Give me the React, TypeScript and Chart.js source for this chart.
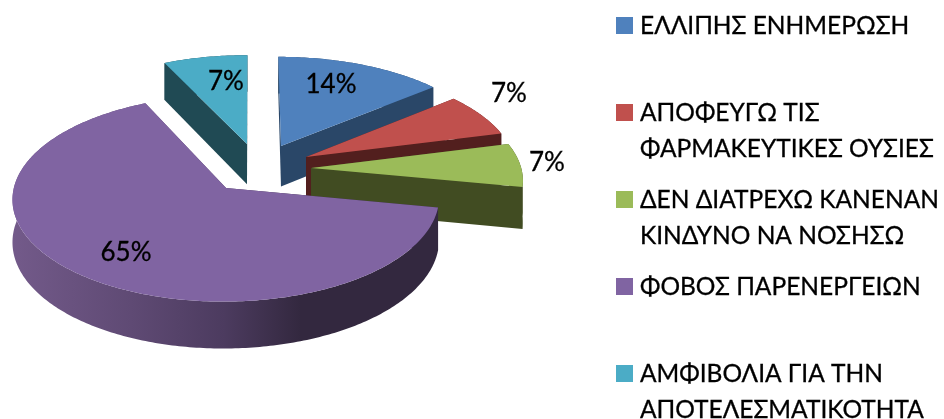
import { useEffect, useRef } from "react";
import Chart from "chart.js/auto";

const categories = [
  "ΕΛΛΙΠΗΣ ΕΝΗΜΕΡΩΣΗ",
  "ΑΠΟΦΕΥΓΩ ΤΙΣ ΦΑΡΜΑΚΕΥΤΙΚΕΣ ΟΥΣΙΕΣ",
  "ΔΕΝ ΔΙΑΤΡΕΧΩ ΚΑΝΕΝΑΝ ΚΙΝΔΥΝΟ ΝΑ ΝΟΣΗΣΩ",
  "ΦΟΒΟΣ ΠΑΡΕΝΕΡΓΕΙΩΝ",
  "ΑΜΦΙΒΟΛΙΑ ΓΙΑ ΤΗΝ ΑΠΟΤΕΛΕΣΜΑΤΙΚΟΤΗΤΑ",
];
const shares = [14, 7, 7, 65, 7];
const topColors = ["#4f81bd", "#c0504d", "#9bbb59", "#8064a2", "#4bacc6"];
const sideColors = ["#2a4768", "#521f1e", "#414c22", "#33283f", "#204a54"];

// legend wrapping and placement
const legendLines = [
  ["ΕΛΛΙΠΗΣ ΕΝΗΜΕΡΩΣΗ"],
  ["ΑΠΟΦΕΥΓΩ ΤΙΣ", "ΦΑΡΜΑΚΕΥΤΙΚΕΣ ΟΥΣΙΕΣ"],
  ["ΔΕΝ ΔΙΑΤΡΕΧΩ ΚΑΝΕΝΑΝ", "ΚΙΝΔΥΝΟ ΝΑ ΝΟΣΗΣΩ"],
  ["ΦΟΒΟΣ ΠΑΡΕΝΕΡΓΕΙΩΝ"],
  ["ΑΜΦΙΒΟΛΙΑ ΓΙΑ ΤΗΝ", "ΑΠΟΤΕΛΕΣΜΑΤΙΚΟΤΗΤΑ"],
];
const legendTops = [17, 104, 191, 278, 365];
const labelSpots = [
  [331, 85],
  [509, 94],
  [547, 163],
  [126, 253],
  [226, 82],
];

// 3D look: perspective projection of the flat pie, explosion of each slice in unit-radius space
const VIEW = { cx: 252, cy: 172, rx: 211, ry: 100, p: 0.1, depth: 41.5 };
const EXPLODE = [
  [0.141, -0.267],
  [0.26, -0.152],
  [0.281, -0.04],
  [-0.121, 0.1575],
  [-0.0244, -0.288],
];
const RADIUS = [1.035, 1, 1, 0.99, 1.035];
const DRAW_ORDER = [4, 0, 1, 2, 3];
const FONT = '"Lato", "Noto Sans", sans-serif';

type Pt = [number, number];
const project = (u: number, v: number, down = 0): Pt => {
  const w = 1 - VIEW.p * v;
  return [VIEW.cx + (VIEW.rx * u) / w, VIEW.cy + (VIEW.ry * v) / w + down / w];
};

const tracePath = (ctx: CanvasRenderingContext2D, pts: Pt[]) => {
  ctx.beginPath();
  pts.forEach((p, k) => (k === 0 ? ctx.moveTo(p[0], p[1]) : ctx.lineTo(p[0], p[1])));
  ctx.closePath();
};

const pie3d = {
  id: "pie3d",
  beforeDatasetsDraw(chart: any) {
    const ctx: CanvasRenderingContext2D = chart.ctx;
    const arcs = chart.getDatasetMeta(0).data;
    for (const i of DRAW_ORDER) {
      const { startAngle, endAngle } = arcs[i];
      const [eu, ev] = EXPLODE[i];
      const r = RADIUS[i];
      const rim: Pt[] = [];
      const steps = Math.max(4, Math.ceil((endAngle - startAngle) / 0.015));
      for (let s = 0; s <= steps; s++) {
        const a = startAngle + ((endAngle - startAngle) * s) / steps;
        rim.push([eu + r * Math.cos(a), ev + r * Math.sin(a)]);
      }
      let sideFill: any = sideColors[i];
      if (i === 3) {
        const g = ctx.createLinearGradient(12, 0, 437, 0);
        g.addColorStop(0, "#735a8a");
        g.addColorStop(0.28, "#5f4a74");
        g.addColorStop(0.5, "#4c3b5f");
        g.addColorStop(0.68, "#33283f");
        g.addColorStop(1, "#33283f");
        sideFill = g;
      }
      const top = (f: Pt) => project(f[0], f[1]);
      const bottom = (f: Pt) => project(f[0], f[1], VIEW.depth);
      const apex: Pt = [eu, ev];
      ctx.save();
      ctx.fillStyle = sideFill;
      // rim wall as one strip
      tracePath(ctx, [...rim.map(top), ...rim.slice().reverse().map(bottom)]);
      ctx.fill();
      // the two cut walls
      const first = rim[0];
      const last = rim[rim.length - 1];
      tracePath(ctx, [top(apex), top(first), bottom(first), bottom(apex)]);
      ctx.fill();
      tracePath(ctx, [top(apex), top(last), bottom(last), bottom(apex)]);
      ctx.fill();
      // top face
      ctx.fillStyle = arcs[i].options.backgroundColor;
      tracePath(ctx, [top(apex), ...rim.map(top)]);
      ctx.fill();
      ctx.restore();
    }
    return false;
  },
  afterDraw(chart: any) {
    const ctx: CanvasRenderingContext2D = chart.ctx;
    const put = (text: string, x: number, y: number) => {
      ctx.fillText(text, x, y);
      ctx.strokeText(text, x, y);
    };
    ctx.save();
    ctx.fillStyle = "#000";
    ctx.strokeStyle = "#000";
    ctx.lineWidth = 0.3;
    ctx.font = `26px ${FONT}`;
    ctx.textAlign = "center";
    ctx.textBaseline = "middle";
    shares.forEach((s, i) => put(`${s}%`, labelSpots[i][0], labelSpots[i][1]));
    ctx.font = `24.5px ${FONT}`;
    ctx.textAlign = "left";
    ctx.textBaseline = "alphabetic";
    legendLines.forEach((lines, i) => {
      ctx.fillStyle = topColors[i];
      ctx.fillRect(616, legendTops[i], 17, 17);
      ctx.fillStyle = "#000";
      lines.forEach((line, l) => put(line, 640, legendTops[i] + 17 + l * 36));
    });
    ctx.restore();
  },
};

export default function App() {
  const ref = useRef<HTMLCanvasElement>(null);
  useEffect(() => {
    const chart = new Chart(ref.current!, {
      type: "pie",
      data: {
        labels: categories,
        datasets: [{ data: shares, backgroundColor: topColors, borderWidth: 0 }],
      },
      options: {
        responsive: false,
        animation: false,
        plugins: { legend: { display: false }, tooltip: { enabled: false } },
      },
      plugins: [pie3d],
    } as any);
    return () => chart.destroy();
  }, []);
  return (
    <div style={{ position: "fixed", left: 0, top: 0, width: 944, height: 419, background: "#fff" }}>
      <canvas ref={ref} width={944} height={419} style={{ display: "block" }} />
    </div>
  );
}
